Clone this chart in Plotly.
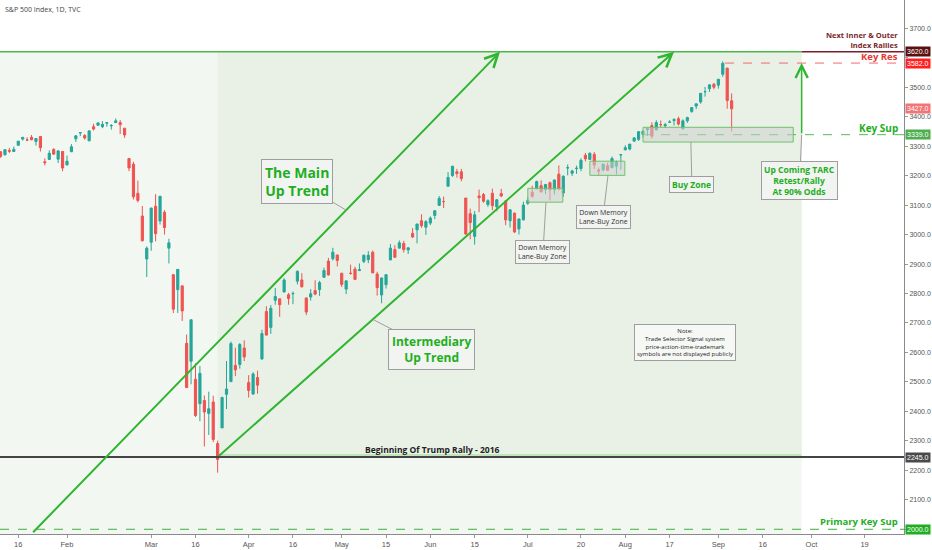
import pandas as pd
import plotly.graph_objects as go

# NYSE holidays in the shown window (TradingView skips them, future bars too)
HOLIDAYS = ["2020-01-20", "2020-02-17", "2020-04-10", "2020-05-25", "2020-07-03", "2020-09-07"]
calendar = [
    d.strftime("%Y-%m-%d")
    for d in pd.bdate_range("2020-01-02", "2020-11-30")
    if d.strftime("%Y-%m-%d") not in HOLIDAYS
]
POS = {d: i for i, d in enumerate(calendar)}

FIRST_BAR = "2020-01-09"
LAST_BAR = "2020-09-04"

# S&P 500 daily bars, Jan 9 .. Sep 4 2020 (one row per month)
opens = [
    3266, 3281, 3271, 3285, 3282, 3303, 3324, 3321, 3330, 3316, 3333, 3247, 3255, 3289, 3256, 3282,
    3236, 3281, 3325, 3345, 3336, 3318, 3366, 3371, 3366, 3378, 3369, 3380, 3380, 3361, 3258, 3239, 3140, 3063, 2917,
    2974, 3096, 3046, 3076, 2954, 2864, 2813, 2826, 2631, 2570, 2509, 2426, 2437, 2393, 2432, 2291, 2344, 2458, 2501, 2556, 2559, 2615,
    2498, 2459, 2515, 2578, 2739, 2685, 2777, 2782, 2805, 2796, 2799, 2842, 2846, 2785, 2788, 2810, 2813, 2855, 2910, 2918, 2931,
    2869, 2815, 2869, 2883, 2878, 2909, 2915, 2940, 2866, 2795, 2830, 2914, 2949, 2954, 2970, 2948, 3004, 3016, 3047, 3025,
    3039, 3065, 3099, 3112, 3164, 3200, 3213, 3213, 3124, 3071, 2994, 3131, 3136, 3102, 3140, 3094, 3139, 3114, 3047, 3073, 3019, 3050,
    3106, 3144, 3155, 3166, 3153, 3176, 3152, 3205, 3141, 3226, 3208, 3224, 3224, 3269, 3255, 3272, 3219, 3220, 3234, 3227, 3232, 3270,
    3288, 3290, 3317, 3323, 3340, 3356, 3370, 3355, 3373, 3369, 3381, 3387, 3393, 3360, 3386, 3418, 3436, 3450, 3485, 3495, 3510,
    3507, 3544, 3565, 3454,
]
highs = [
    3276, 3283, 3288, 3294, 3299, 3317, 3330, 3330, 3338, 3327, 3333, 3259, 3286, 3293, 3286, 3282,
    3268, 3307, 3338, 3348, 3341, 3352, 3376, 3381, 3385, 3381, 3375, 3394, 3389, 3361, 3260, 3247, 3183, 3097, 2960,
    3091, 3137, 3131, 3083, 2986, 2864, 2883, 2826, 2661, 2711, 2563, 2554, 2454, 2467, 2453, 2301, 2450, 2571, 2637, 2616, 2632, 2641,
    2523, 2533, 2538, 2677, 2757, 2761, 2819, 2782, 2852, 2802, 2807, 2879, 2869, 2786, 2815, 2845, 2843, 2888, 2921, 2955, 2931,
    2869, 2844, 2898, 2891, 2902, 2932, 2944, 2946, 2874, 2853, 2865, 2968, 2964, 2980, 2979, 2957, 3022, 3036, 3069, 3049,
    3062, 3081, 3131, 3129, 3212, 3233, 3223, 3223, 3124, 3088, 3080, 3153, 3141, 3120, 3156, 3121, 3155, 3115, 3086, 3074, 3054, 3112,
    3128, 3166, 3183, 3184, 3172, 3180, 3187, 3235, 3201, 3238, 3220, 3234, 3259, 3277, 3279, 3280, 3227, 3241, 3244, 3265, 3251, 3272,
    3303, 3307, 3331, 3351, 3353, 3363, 3381, 3388, 3387, 3379, 3388, 3395, 3400, 3391, 3400, 3432, 3444, 3481, 3501, 3509, 3515,
    3528, 3588, 3565, 3479,
]
lows = [
    3264, 3261, 3268, 3277, 3281, 3303, 3319, 3317, 3320, 3302, 3282, 3235, 3253, 3272, 3243, 3215,
    3236, 3281, 3314, 3334, 3322, 3318, 3353, 3370, 3361, 3366, 3356, 3379, 3341, 3328, 3215, 3119, 3109, 2977, 2856,
    2945, 2977, 3034, 3000, 2902, 2734, 2734, 2707, 2479, 2492, 2381, 2367, 2281, 2320, 2296, 2192, 2344, 2408, 2501, 2520, 2545, 2571,
    2447, 2456, 2460, 2575, 2658, 2663, 2762, 2721, 2805, 2762, 2764, 2831, 2820, 2727, 2776, 2794, 2792, 2853, 2861, 2912, 2892,
    2822, 2798, 2864, 2848, 2876, 2903, 2903, 2870, 2793, 2767, 2817, 2914, 2922, 2954, 2939, 2934, 2988, 2970, 3023, 2999,
    3032, 3052, 3099, 3090, 3164, 3196, 3193, 3181, 2999, 2984, 2966, 3076, 3108, 3094, 3083, 3079, 3127, 3032, 3024, 3005, 3000, 3048,
    3101, 3125, 3155, 3143, 3137, 3116, 3136, 3149, 3128, 3201, 3199, 3206, 3215, 3248, 3253, 3223, 3200, 3214, 3216, 3227, 3204, 3220,
    3285, 3286, 3317, 3318, 3329, 3335, 3326, 3355, 3363, 3362, 3379, 3370, 3370, 3355, 3379, 3413, 3426, 3444, 3468, 3484, 3493,
    3495, 3535, 3427, 3350,
]
closes = [
    3275, 3265, 3288, 3283, 3289, 3317, 3330, 3321, 3322, 3326, 3295, 3244, 3276, 3273, 3284, 3226,
    3249, 3298, 3335, 3346, 3328, 3352, 3358, 3379, 3374, 3380, 3370, 3386, 3373, 3338, 3226, 3128, 3116, 2979, 2954,
    3090, 3003, 3130, 3024, 2972, 2747, 2882, 2741, 2481, 2711, 2386, 2529, 2398, 2409, 2305, 2237, 2447, 2476, 2630, 2541, 2627, 2585,
    2471, 2527, 2489, 2664, 2659, 2750, 2790, 2762, 2846, 2783, 2800, 2875, 2823, 2737, 2799, 2798, 2837, 2878, 2863, 2940, 2912,
    2831, 2843, 2868, 2848, 2881, 2930, 2930, 2870, 2820, 2853, 2864, 2954, 2923, 2972, 2949, 2955, 2992, 3036, 3030, 3044,
    3056, 3081, 3123, 3112, 3194, 3232, 3207, 3190, 3002, 3041, 3067, 3125, 3113, 3115, 3098, 3118, 3131, 3050, 3084, 3009, 3053, 3100,
    3116, 3130, 3180, 3145, 3170, 3152, 3185, 3155, 3198, 3227, 3216, 3225, 3252, 3257, 3276, 3236, 3216, 3239, 3218, 3258, 3246, 3271,
    3295, 3307, 3328, 3349, 3351, 3360, 3334, 3380, 3373, 3373, 3382, 3390, 3375, 3386, 3397, 3431, 3444, 3479, 3485, 3508, 3500,
    3527, 3581, 3455, 3427,
]

# x axis labels (TradingView style, on trading-day index)
tick_dates = ["2020-01-16", "2020-02-03", "2020-03-02", "2020-03-16", "2020-04-01", "2020-04-16",
              "2020-05-01", "2020-05-15", "2020-06-01", "2020-06-15", "2020-07-01", "2020-07-20",
              "2020-08-03", "2020-08-17", "2020-09-01", "2020-09-16", "2020-10-01", "2020-10-19"]
tick_labels = ["16", "Feb", "Mar", "16", "Apr", "16", "May", "15", "Jun", "15", "Jul", "20",
               "Aug", "17", "Sep", "16", "Oct", "19"]
price_ticks = list(range(2000, 3800, 100))
hidden_ticks = [2000, 3600]  # sit under the price-scale labels

# drawn levels
NEXT_RALLIES = 3620
KEY_RES = 3582
KEY_SUP = 3339
TRUMP_RALLY = 2245
PRIMARY_SUP = 2000

# zones: (start, end, low, high)
memory_zone_1 = ("2020-07-01", "2020-07-14", 3110, 3157)
memory_zone_2 = ("2020-07-22", "2020-08-03", 3201, 3249)
buy_zone = ("2020-08-07", "2020-09-25", 3314, 3364)

first = POS[FIRST_BAR]
bar_x = list(range(first, POS[LAST_BAR] + 1))
assert len(bar_x) == len(opens) == len(highs) == len(lows) == len(closes)

X_RANGE = [5.88, 209.9]
Y_RANGE = [1984, 3796]
zone_end = POS["2020-09-29"] - 0.2
rally_start = POS["2020-03-23"]

GREEN = "#2fb52f"
TEXT_GREEN = "#1fae1f"
GRAY = "#9e9e9e"

fig = go.Figure()
fig.add_trace(
    go.Candlestick(
        x=bar_x, open=opens, high=highs, low=lows, close=closes,
        increasing=dict(line=dict(color="#26a69a", width=1), fillcolor="#26a69a"),
        decreasing=dict(line=dict(color="#ef5350", width=1), fillcolor="#ef5350"),
        whiskerwidth=0, showlegend=False, hoverinfo="skip",
    )
)


def hline(y, x0, x1, color, width=1, dash="solid", layer="above"):
    return dict(type="line", xref="x", yref="y", x0=x0, x1=x1, y0=y, y1=y,
                line=dict(color=color, width=width, dash=dash), layer=layer)


def zone(z):
    return dict(type="rect", xref="x", yref="y", x0=POS[z[0]], x1=POS[z[1]] - 0.1, y0=z[2], y1=z[3],
                fillcolor="rgba(205,208,205,0.55)", line=dict(color="#6cc36c", width=1), layer="above")


shapes = [
    dict(type="rect", xref="x", yref="y", x0=X_RANGE[0], x1=zone_end, y0=Y_RANGE[0], y1=NEXT_RALLIES,
         fillcolor="#f3f7f1", line_width=0, layer="below"),
    dict(type="rect", xref="x", yref="y", x0=rally_start, x1=zone_end, y0=TRUMP_RALLY + 7, y1=NEXT_RALLIES,
         fillcolor="#e9f1e6", line_width=0, layer="below"),
    hline(NEXT_RALLIES, X_RANGE[0], zone_end, "#4cb84c", 1.5, layer="below"),
    hline(NEXT_RALLIES, zone_end, X_RANGE[1], "#7b1f2a", 1.5),
    hline(TRUMP_RALLY + 7, rally_start, zone_end, "#96d68c", 1, layer="below"),
    hline(TRUMP_RALLY, X_RANGE[0], X_RANGE[1], "#444444", 2),
    hline(PRIMARY_SUP, X_RANGE[0], X_RANGE[1], "#3cb33c", 1, "dash"),
    hline(KEY_RES, POS["2020-09-02"] + 0.5, X_RANGE[1], "#f26b6b", 1, "dash"),
    hline(KEY_SUP, POS[buy_zone[0]], X_RANGE[1], "#55bb55", 1, "dash"),
    zone(memory_zone_1),
    zone(memory_zone_2),
    zone(buy_zone),
]

annotations = []

# trend lines with open arrowheads
trend_lines = [
    ((13.03, 1985), (118.72, NEXT_RALLIES)),
    ((rally_start, TRUMP_RALLY), (158.0, NEXT_RALLIES)),
]
for tail, head in trend_lines:
    annotations.append(dict(
        x=head[0], y=head[1], ax=tail[0], ay=tail[1], axref="x", ayref="y", xref="x", yref="y",
        text="", showarrow=True, arrowhead=5, arrowsize=1.3, arrowwidth=2, arrowcolor=GREEN, standoff=0,
    ))
annotations.append(dict(
    x=zone_end, y=KEY_RES, ax=zone_end, ay=KEY_SUP, axref="x", ayref="y", xref="x", yref="y",
    text="", showarrow=True, arrowhead=5, arrowsize=1.6, arrowwidth=1.5, arrowcolor=GREEN, standoff=0,
))

# callout bubbles
callouts = [
    (84.0, 3083, -49, -29, "The Main<br>Up Trend", 14, TEXT_GREEN, True),
    (90.06, 2712, 58, 30, "Intermediary<br>Up Trend", 12, TEXT_GREEN, True),
    (129.1, memory_zone_1[2], -3, 50, "Down Memory<br>Lane-Buy Zone", 7, "#333333", False),
    (143.1, memory_zone_2[2], -5, 42, "Down Memory<br>Lane-Buy Zone", 7, "#333333", False),
    (161.8, buy_zone[2], 1, 42, "Buy Zone", 8.5, TEXT_GREEN, True),
    (zone_end, KEY_SUP, -2, 46, "Up Coming TARC<br>Retest/Rally<br>At 90% Odds", 8.5, TEXT_GREEN, True),
]
for x, y, dx, dy, txt, size, color, bold in callouts:
    annotations.append(dict(
        x=x, y=y, xref="x", yref="y", ax=dx, ay=dy, text=f"<b>{txt}</b>" if bold else txt,
        showarrow=True, arrowhead=0, arrowwidth=1, arrowcolor=GRAY, standoff=0,
        font=dict(size=size, color=color), bgcolor="#f1f4f0", bordercolor=GRAY, borderwidth=1,
        borderpad=3 if size > 10 else 2, align="center",
    ))
annotations.append(dict(
    x=160.5, y=2634, xref="x", yref="y", showarrow=False,
    text="Note:<br>Trade Selector Signal system<br>price-action-time-trademark<br>symbols are not displayed publicly",
    font=dict(size=6, color="#222222"), bgcolor="#f6f8f5", bordercolor=GRAY, borderwidth=1, borderpad=2,
))

# level captions on the right (centred on the price where the text sits)
captions = [
    (3661, "<b>Next Inner & Outer<br>Index Rallies</b>", 7.5, "#7b1f2a"),
    (3603, "<b>Key Res</b>", 9.5, "#e53935"),
    (3361, "<b>Key Sup</b>", 10, TEXT_GREEN),
    (2025, "<b>Primary Key Sup</b>", 9.5, TEXT_GREEN),
]
for y, txt, size, color in captions:
    annotations.append(dict(
        x=1, y=y, xref="paper", yref="y", xanchor="right", yanchor="middle", xshift=-5,
        text=txt, showarrow=False, align="right", font=dict(size=size, color=color), borderpad=0,
    ))
annotations.append(dict(
    x=103.4, y=2272, xref="x", yref="y", yanchor="middle", showarrow=False,
    text="<b>Beginning Of Trump Rally - 2016</b>", font=dict(size=8.5, color="#222222"),
))

# price scale labels
price_labels = [
    (NEXT_RALLIES, "#5a1010"),
    (KEY_RES, "#ff2020"),
    (closes[-1], "#f27474"),
    (KEY_SUP, "#4caf50"),
    (TRUMP_RALLY, "#4a4a4a"),
    (PRIMARY_SUP, "#1fae1f"),
]
for y, bg in price_labels:
    annotations.append(dict(
        x=1, y=y, xref="paper", yref="y", xanchor="left", xshift=1, showarrow=False,
        text=f"{y:.1f}", font=dict(size=7, color="white", family="Liberation Sans"),
        bgcolor=bg, borderpad=1,
    ))

annotations.append(dict(
    x=0, y=1, xref="paper", yref="paper", xanchor="left", yanchor="top", xshift=3, yshift=-3,
    text="S&P 500 Index, 1D, TVC", showarrow=False, font=dict(size=7, color="#444444"),
))

fig.update_layout(
    width=932, height=550,
    margin=dict(l=0, r=28, t=0, b=16),
    paper_bgcolor="white", plot_bgcolor="white",
    font=dict(family="Open Sans, DejaVu Sans, sans-serif"),
    shapes=shapes, annotations=annotations, showlegend=False,
    xaxis=dict(
        range=X_RANGE, tickvals=[POS[d] for d in tick_dates], ticktext=tick_labels,
        showgrid=False, zeroline=False, ticks="outside", ticklen=3, tickcolor="#999999",
        showline=True, linecolor="#8a8a8a", tickfont=dict(size=7.5, color="#555555", family="Liberation Sans"),
        rangeslider=dict(visible=False), fixedrange=True,
    ),
    yaxis=dict(
        range=Y_RANGE, side="right", tickvals=price_ticks,
        ticktext=["" if p in hidden_ticks else f"{p:.1f}" for p in price_ticks],
        showgrid=False, zeroline=False, ticks="outside", ticklen=3, tickcolor="#999999",
        showline=True, linecolor="#8a8a8a", tickfont=dict(size=7, color="#555555", family="Liberation Sans"),
        fixedrange=True,
    ),
)

fig.write_html(
    "out.html",
    config={"displayModeBar": False},
    post_script="document.body.style.margin='0';",
)
